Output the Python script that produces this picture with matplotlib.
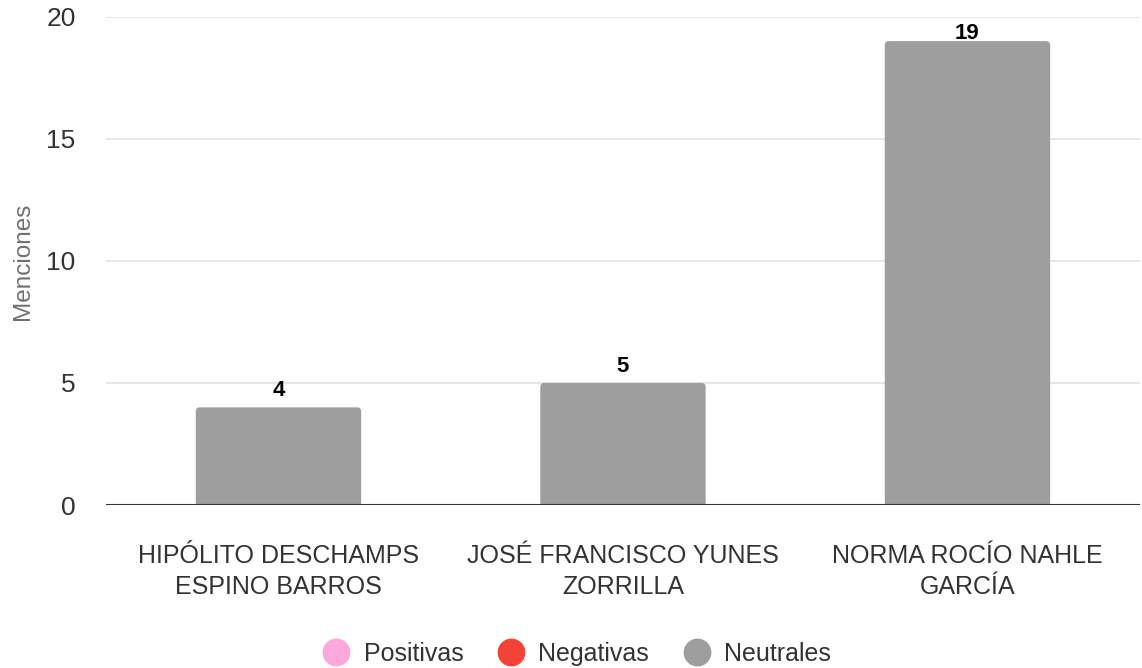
import matplotlib.pyplot as plt
from matplotlib.lines import Line2D
from matplotlib.patches import FancyBboxPatch

categories = ["HIPÓLITO DESCHAMPS\nESPINO BARROS",
              "JOSÉ FRANCISCO YUNES\nZORRILLA",
              "NORMA ROCÍO NAHLE\nGARCÍA"]
neutrales = [4, 5, 19]
legend_labels = ["Positivas", "Negativas", "Neutrales"]
legend_colors = ["#ffa8dc", "#f44336", "#9e9e9e"]

plt.rcParams['font.family'] = ['Liberation Sans', 'DejaVu Sans']

fig = plt.figure(figsize=(11.42, 6.68), dpi=100)
ax = fig.add_axes([0.093, 0.244, 0.905, 0.731])

bar_w = 0.48
ax.set_xlim(-0.5, 2.5)
ax.set_ylim(0, 20)
x = list(range(len(categories)))

# rounded-top bars; the bottom corners fall below 0 and get clipped
aspect = (0.905 * 11.42 / 3) / (0.731 * 6.68 / 20)
for xi, v in zip(x, neutrales):
    box = FancyBboxPatch((xi - bar_w / 2, -1), bar_w, v + 1,
                         boxstyle="round,pad=0,rounding_size=0.012",
                         mutation_aspect=aspect,
                         facecolor="#9e9e9e", edgecolor='none', zorder=3)
    ax.add_patch(box)
    # label sits above the bar, pushed down when it would leave the plot
    if v + 1.2 > 20:
        ax.text(xi, 19.75, str(v), ha='center', va='top',
                fontsize=16, fontweight='bold', color='black', zorder=4)
    else:
        ax.text(xi, v + 0.25, str(v), ha='center', va='bottom',
                fontsize=16, fontweight='bold', color='black', zorder=4)

ax.set_yticks([0, 5, 10, 15, 20])
ax.grid(axis='y', color='#e3e3e3', linewidth=1.2, zorder=0)
ax.axhline(0, color='#333333', linewidth=1.5, zorder=5)
for s in ax.spines.values():
    s.set_visible(False)
ax.tick_params(axis='y', length=0, labelsize=19, colors='#333333', pad=22)
ax.tick_params(axis='x', length=0, labelsize=18, colors='#333333', pad=28)
ax.set_xticks(x)
ax.set_xticklabels(categories, linespacing=1.35)
ax.set_ylabel("Menciones", fontsize=17.5, color='#707070', labelpad=9)

handles = [Line2D([], [], marker='o', linestyle='', markersize=19,
                  markerfacecolor=c, markeredgecolor=c) for c in legend_colors]
fig.legend(handles, legend_labels, loc='lower center', ncol=3,
           bbox_to_anchor=(0.5, -0.031), frameon=False, fontsize=18,
           labelcolor='#333333', handletextpad=0.1, columnspacing=0.9)

fig.savefig("out.png", dpi=100)
